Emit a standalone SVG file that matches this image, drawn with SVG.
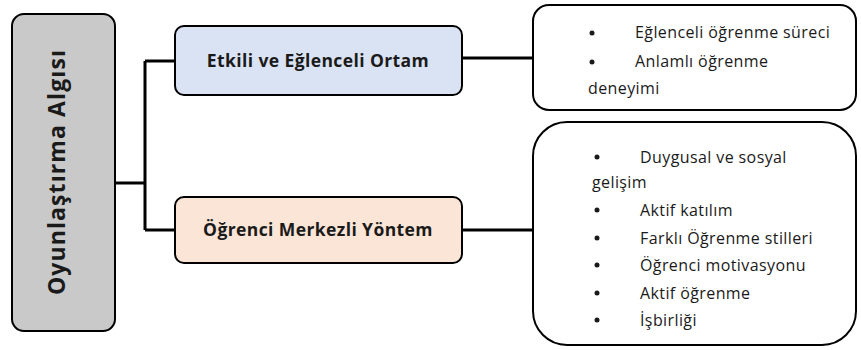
<svg xmlns="http://www.w3.org/2000/svg" width="861" height="350" viewBox="0 0 861 350">
  <style>
    .box { stroke: #000; stroke-width: 2; }
    .wire { fill: none; stroke: #000; stroke-width: 3; }
    .title { font-family: "Open Sans", "Liberation Sans", sans-serif; font-weight: bold; fill: #1a1a1a; }
    .item { font-family: "Open Sans", "Liberation Sans", sans-serif; font-size: 16px; letter-spacing: 0.4px; fill: #1a1a1a; }
  </style>
  <rect width="861" height="350" fill="#ffffff"/>

  <g id="connectors">
    <path class="wire" d="M115 183 H145 M145 61 V230 M145 61 H175 M145 230 H175"/>
    <path class="wire" d="M462 58 H533"/>
    <path class="wire" d="M462 230 H533"/>
  </g>

  <g id="root">
    <rect class="box" x="12" y="14" width="103" height="317" rx="12" fill="#c9c9c9"/>
    <text class="title" font-size="23" letter-spacing="1.1" transform="translate(65 172) rotate(-90)" text-anchor="middle">Oyunlaştırma Algısı</text>
  </g>

  <g id="ortam">
    <rect class="box" x="175" y="26" width="287" height="69" rx="9" fill="#dae3f3"/>
    <text class="title" font-size="17.5" letter-spacing="0.4" x="318" y="67" text-anchor="middle">Etkili ve Eğlenceli Ortam</text>
  </g>

  <g id="yontem">
    <rect class="box" x="175" y="197" width="287" height="66" rx="9" fill="#fbe5d6"/>
    <text class="title" font-size="17.5" letter-spacing="0.4" x="318" y="236" text-anchor="middle">Öğrenci Merkezli Yöntem</text>
  </g>

  <g id="ortam-detay">
    <rect class="box" x="533" y="5" width="323" height="105" rx="16" fill="#ffffff"/>
    <g class="item">
      <circle cx="592" cy="33" r="2.5"/>
      <text x="635" y="38">Eğlenceli öğrenme süreci</text>
      <circle cx="592" cy="62" r="2.5"/>
      <text x="635" y="67">Anlamlı öğrenme</text>
      <text x="588" y="94">deneyimi</text>
    </g>
  </g>

  <g id="yontem-detay">
    <rect class="box" x="533" y="122" width="323" height="223" rx="34" fill="#ffffff"/>
    <g class="item">
      <circle cx="597" cy="157" r="2.5"/>
      <text x="640" y="163">Duygusal ve sosyal</text>
      <text x="592" y="188">gelişim</text>
      <circle cx="597" cy="210" r="2.5"/>
      <text x="640" y="216">Aktif katılım</text>
      <circle cx="597" cy="238" r="2.5"/>
      <text x="640" y="244">Farklı Öğrenme stilleri</text>
      <circle cx="597" cy="265" r="2.5"/>
      <text x="640" y="271">Öğrenci motivasyonu</text>
      <circle cx="597" cy="293" r="2.5"/>
      <text x="640" y="299">Aktif öğrenme</text>
      <circle cx="597" cy="320" r="2.5"/>
      <text x="640" y="326">İşbirliği</text>
    </g>
  </g>
</svg>
